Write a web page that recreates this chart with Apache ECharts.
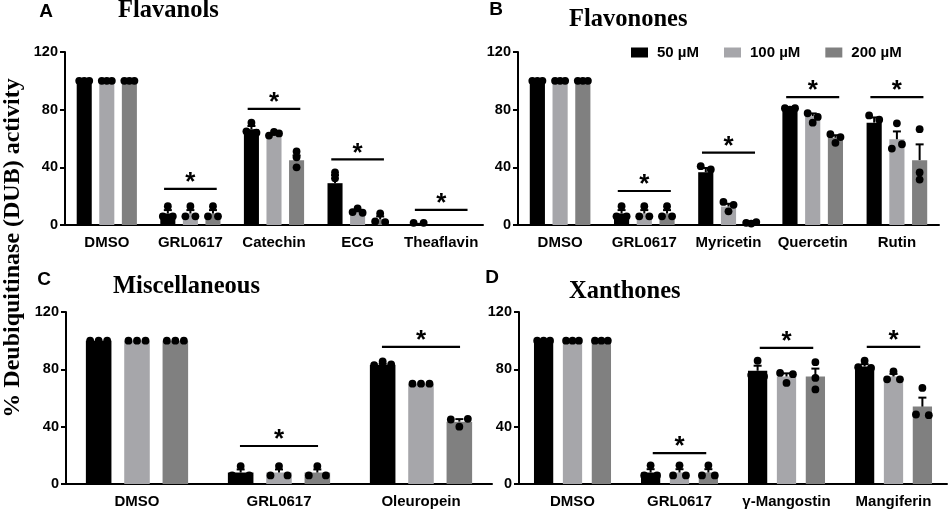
<!DOCTYPE html>
<html lang="en">
<head>
<meta charset="UTF-8">
<title>DUB activity</title>
<script src="https://cdn.jsdelivr.net/npm/echarts@6/dist/echarts.min.js"></script>
<style>
  html, body { margin: 0; padding: 0; background: #fff; }
  #chart { width: 948px; height: 512px; }
</style>
</head>
<body>
<div id="chart"></div>
<script>
var concs = ['50 µM', '100 µM', '200 µM'];
var colors = ['#000000', '#a6a6aa', '#808080'];
var yMax = 120, yStep = 40;

// A - Flavanols
var catA = ['DMSO', 'GRL0617', 'Catechin', 'ECG', 'Theaflavin'];
var meanA50 = [100, 8, 66.5, 29, 1.5];
var meanA100 = [100, 8, 63, 9.5, 0];
var meanA200 = [100, 8, 45, 4, 0];
var dotsA50 = [[100, 100, 100], [6, 13, 6], [65, 71, 64], [36.5, 32.5, 18], [1.5, 1.5]];
var dotsA100 = [[100, 100, 100], [6, 13, 6], [62, 64.5, 63.5], [9, 11.5, 8.5], []];
var dotsA200 = [[100, 100, 100], [6, 13, 6], [51, 47, 40], [2.5, 8, 2], []];
var sigA = [[1, 25], [2, 80.5], [3, 45.5], [4, 10.5]];

// B - Flavonones
var catB = ['DMSO', 'GRL0617', 'Myricetin', 'Quercetin', 'Rutin'];
var meanB50 = [100, 8, 36.6, 80.5, 71];
var meanB100 = [100, 8, 12.8, 75.5, 59.5];
var meanB200 = [100, 8, 1.5, 60.5, 45];
var dotsB50 = [[100, 100, 100], [6, 13, 6], [40.8, 31, 38.5], [81, 80, 81], [76, 64, 73]];
var dotsB100 = [[100, 100, 100], [6, 13, 6], [16, 9.5, 14], [71, 77.5, 75], [53, 70.5, 56]];
var dotsB200 = [[100, 100, 100], [6, 13, 6], [1.5, 1, 2], [57, 63, 61], [31.5, 66.5, 36.5]];
var sigB = [[1, 23.6], [2, 50.2], [3, 88.7], [4, 88.7]];

// C - Miscellaneous
var catC = ['DMSO', 'GRL0617', 'Oleuropein'];
var meanC50 = [100, 8, 83];
var meanC100 = [100, 8, 70];
var meanC200 = [100, 8, 43.5];
var dotsC50 = [[100, 100, 100], [6, 12.5, 6], [83, 85.5, 83.5]];
var dotsC100 = [[100, 100, 100], [6, 12.5, 6], [70, 70, 70]];
var dotsC200 = [[100, 100, 100], [6, 12.5, 6], [45, 40, 45.5]];
var sigC = [[1, 26.5], [2, 95.6]];

// D - Xanthones
var catD = ['DMSO', 'GRL0617', 'γ-Mangostin', 'Mangiferin'];
var meanD50 = [100, 8, 79, 82];
var meanD100 = [100, 8, 75, 75];
var meanD200 = [100, 8, 75, 54];
var dotsD50 = [[100, 100, 100], [6, 13, 6], [76, 86, 75], [81.5, 86, 81]];
var dotsD100 = [[100, 100, 100], [6, 13, 6], [77.5, 70.5, 76.6], [73, 78.5, 73]];
var dotsD200 = [[100, 100, 100], [6, 13, 6], [85, 74, 66], [48.5, 67, 48]];
var sigD = [[1, 21.6], [2, 95], [3, 95.7]];

var panels = [
  { letter: 'A', title: 'Flavanols', cats: catA, means: [meanA50, meanA100, meanA200], dots: [dotsA50, dotsA100, dotsA200], sig: sigA,
    grid: { left: 65, top: 52, width: 418, height: 173 }, sigW: 0.63,
    letterPos: [46, 12], titlePos: [118, 11] },
  { letter: 'B', title: 'Flavonones', cats: catB, means: [meanB50, meanB100, meanB200], dots: [dotsB50, dotsB100, dotsB200], sig: sigB,
    grid: { left: 518, top: 52, width: 421, height: 173 }, sigW: 0.63,
    letterPos: [496, 10], titlePos: [569, 20] },
  { letter: 'C', title: 'Miscellaneous', cats: catC, means: [meanC50, meanC100, meanC200], dots: [dotsC50, dotsC100, dotsC200], sig: sigC,
    grid: { left: 66, top: 312, width: 426, height: 172 }, sigW: 0.55,
    letterPos: [44, 280], titlePos: [113, 287] },
  { letter: 'D', title: 'Xanthones', cats: catD, means: [meanD50, meanD100, meanD200], dots: [dotsD50, dotsD100, dotsD200], sig: sigD,
    grid: { left: 519, top: 312, width: 428, height: 172 }, sigW: 0.5,
    letterPos: [492, 278], titlePos: [569, 292] }
];

var axisStyle = { color: '#000', width: 2 };
var font = 'Liberation Sans';
var BAR_FRAC = 0.18;

function dotsRenderer(dots, k) {
  return function (params, api) {
    var i = api.value(0);
    var mean = api.value(1);
    var band = api.size([1, 0])[0];
    var barW = band * BAR_FRAC;
    var cx = api.coord([i, 0])[0] + (k - 1) * barW * 1.5;
    var s = barW / 3;
    var vals = dots[i] || [];
    var children = [];
    if (vals.length > 1) {
      var m = vals.reduce(function (a, b) { return a + b; }, 0) / vals.length;
      var ss = vals.reduce(function (a, b) { return a + (b - m) * (b - m); }, 0);
      var sem = Math.sqrt(ss / (vals.length - 1)) / Math.sqrt(vals.length);
      var y0 = api.coord([i, mean])[1];
      var y1 = api.coord([i, mean + sem])[1];
      if (y0 - y1 > 0.5) {
        children.push({ type: 'line', shape: { x1: cx, y1: y0, x2: cx, y2: y1 }, style: { stroke: '#000', lineWidth: 2 } });
        children.push({ type: 'line', shape: { x1: cx - 4, y1: y1, x2: cx + 4, y2: y1 }, style: { stroke: '#000', lineWidth: 2 } });
      }
    }
    // spread dots that sit at about the same height
    var ys = vals.map(function (v) { return api.coord([i, v])[1]; });
    var root = vals.map(function (v, j) { return j; });
    function find(j) { while (root[j] !== j) j = root[j]; return j; }
    for (var a = 0; a < ys.length; a++) {
      for (var b = a + 1; b < ys.length; b++) {
        if (Math.abs(ys[a] - ys[b]) < 5) root[find(b)] = find(a);
      }
    }
    var clusters = {};
    ys.forEach(function (y, j) {
      var r = find(j);
      (clusters[r] = clusters[r] || []).push(j);
    });
    Object.keys(clusters).forEach(function (r) {
      var mem = clusters[r];
      var offs = mem.length === 1 ? [0] : mem.length === 2 ? [-s, s] : [-s, 0, s];
      mem.forEach(function (j, n) {
        children.push({ type: 'circle', shape: { cx: cx + offs[n], cy: ys[j], r: 3.9 }, style: { fill: '#000' } });
      });
    });
    return { type: 'group', children: children };
  };
}

function sigRenderer(w) {
  return function (params, api) {
    var pt = api.coord([api.value(0), api.value(1)]);
    var half = api.size([1, 0])[0] * w / 2;
    return {
      type: 'group',
      children: [
        { type: 'line', shape: { x1: pt[0] - half, y1: pt[1], x2: pt[0] + half, y2: pt[1] }, style: { stroke: '#000', lineWidth: 2.2 } },
        { type: 'text', x: pt[0], y: pt[1] - 6,
          style: { text: '*', font: 'bold 26px "Liberation Sans"', textAlign: 'center', textVerticalAlign: 'middle', fill: '#000' } }
      ]
    };
  };
}

var grids = [], xAxes = [], yAxes = [], series = [], graphics = [];

panels.forEach(function (p, gi) {
  grids.push(p.grid);
  xAxes.push({
    gridIndex: gi, type: 'category', data: p.cats,
    axisLine: { lineStyle: axisStyle },
    axisTick: { alignWithLabel: true, length: 5, lineStyle: axisStyle },
    axisLabel: { margin: 10, interval: 0, color: '#000', fontWeight: 'bold', fontSize: 15, fontFamily: font }
  });
  yAxes.push({
    gridIndex: gi, type: 'value', min: 0, max: yMax, interval: yStep,
    splitLine: { show: false },
    axisLine: { show: true, lineStyle: axisStyle },
    axisTick: { show: true, length: 5, lineStyle: axisStyle },
    axisLabel: { margin: 7, color: '#000', fontWeight: 'bold', fontSize: 14.5, fontFamily: font }
  });
  for (var k = 0; k < 3; k++) {
    series.push({
      type: 'bar', name: concs[k], xAxisIndex: gi, yAxisIndex: gi,
      data: p.means[k], barWidth: (BAR_FRAC * 100) + '%', barGap: '50%',
      itemStyle: { color: colors[k] }, z: 2, silent: true
    });
  }
  for (var k2 = 0; k2 < 3; k2++) {
    series.push({
      type: 'custom', xAxisIndex: gi, yAxisIndex: gi, z: 4, silent: true,
      data: p.means[k2].map(function (v, i) { return [i, v]; }),
      encode: { x: 0, y: 1 },
      renderItem: dotsRenderer(p.dots[k2], k2)
    });
  }
  series.push({
    type: 'custom', xAxisIndex: gi, yAxisIndex: gi, z: 5, silent: true,
    data: p.sig, encode: { x: 0, y: 1 },
    renderItem: sigRenderer(p.sigW)
  });
  graphics.push({
    type: 'text', x: p.letterPos[0], y: p.letterPos[1],
    style: { text: p.letter, font: 'bold 19px "Liberation Sans"', textAlign: 'center', textVerticalAlign: 'middle', fill: '#000' }
  });
  graphics.push({
    type: 'text', x: p.titlePos[0], y: p.titlePos[1],
    style: { text: p.title, font: 'bold 24.5px "Liberation Serif"', textAlign: 'left', textVerticalAlign: 'middle', fill: '#000' }
  });
});

graphics.push({
  type: 'text', x: 13, y: 248, rotation: Math.PI / 2,
  style: { text: '% Deubiquitinase (DUB) activity', font: 'bold 24px "Liberation Serif"', textAlign: 'center', textVerticalAlign: 'middle', fill: '#000' }
});

var chart = echarts.init(document.getElementById('chart'));
chart.setOption({
  animation: false,
  backgroundColor: '#fff',
  legend: {
    data: concs, left: 631, top: 45, padding: 0,
    icon: 'rect', itemWidth: 17, itemHeight: 10, itemGap: 25,
    selectedMode: false,
    textStyle: { color: '#000', fontWeight: 'bold', fontSize: 15, fontFamily: font, padding: [0, 0, 0, 4] }
  },
  grid: grids,
  xAxis: xAxes,
  yAxis: yAxes,
  series: series,
  graphic: graphics
});
</script>
</body>
</html>
